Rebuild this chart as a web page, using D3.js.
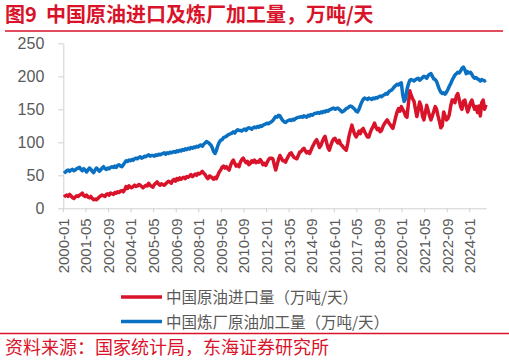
<!DOCTYPE html>
<html>
<head>
<meta charset="utf-8">
<script src="https://cdn.jsdelivr.net/npm/d3@7"></script>
<style>
  body { margin: 0; background: #fff; }
  svg { display: block; }
</style>
</head>
<body>
<div id="chart"></div>
<script>
// monthly, 2000-01 .. 2024-12
var startYear = 2000, endYear = 2024;

var tickLabels = ["2000-01", "2001-05", "2002-09", "2004-01", "2005-05", "2006-09", "2008-01",
  "2009-05", "2010-09", "2012-01", "2013-05", "2014-09", "2016-01", "2017-05", "2018-09",
  "2020-01", "2021-05", "2022-09", "2024-01"];

var yTicks = [0, 50, 100, 150, 200, 250];

var seriesNames = ["中国原油进口量（万吨/天）", "中国炼厂原油加工量（万吨/天）"];

// 中国原油进口量, 万吨/天
var importVals = [
  17, 19, 20, 18, 21, 19, 16, 15, 17, 19, 18, 20,
  21, 23, 19, 18, 20, 17, 16, 18, 15, 13, 14, 13,
  15, 17, 19, 20, 19, 18, 21, 22, 20, 23, 22, 21,
  24, 23, 25, 24, 26, 27, 25, 28, 33, 30, 34, 32,
  31, 33, 35, 33, 34, 36, 35, 33, 31, 33, 35, 34,
  38, 35, 33, 32, 36, 38, 40, 37, 35, 37, 36, 35,
  37, 39, 41, 40, 38, 42, 44, 41, 45, 43, 46, 44,
  46, 47, 45, 48, 47, 49, 51, 48, 50, 52, 50, 53,
  52, 54, 56, 53, 51, 47, 45, 49, 48, 46, 44, 47,
  45, 50, 55, 58, 62, 64, 61, 63, 60, 58, 65, 70,
  73, 68, 64, 66, 63, 70, 74, 76, 72, 69, 71, 66,
  68, 72, 70, 73, 69, 71, 70, 74, 71, 66, 68, 65,
  70, 74, 76, 76, 75, 66, 58, 66, 74, 80, 76, 72,
  72, 70, 75, 79, 83, 84, 80, 77, 76, 75, 80, 85,
  86, 89, 91, 87, 84, 86, 83, 88, 93, 97, 101, 104,
  99, 92, 95, 101, 106, 109, 100, 92, 88, 95, 101, 105,
  106, 102, 99, 103, 97, 95, 92, 90, 88, 98, 110, 118,
  126, 118, 112, 108, 112, 117, 113, 119, 121, 116, 112, 108,
  108, 115, 120, 124, 129, 123, 119, 121, 116, 118, 124, 128,
  131, 134, 130, 127, 124, 121, 129, 138, 146, 151, 147, 154,
  150, 146, 140, 138, 158, 178, 171, 166, 162, 150, 139, 150,
  161, 155, 140, 134, 145, 156, 148, 140, 134, 140, 147, 154,
  150, 140, 132, 122, 125, 146, 140, 134, 136, 142, 155, 164,
  164, 160, 170, 174, 165, 154, 150, 162, 164, 155, 146, 152,
  160, 164, 156, 150, 154, 145, 155, 140, 160, 164, 150, 157
];

// 中国炼厂原油加工量, 万吨/天
var refineVals = [
  53, 55, 57, 58, 56, 58, 59, 57, 58, 60, 61, 62,
  59, 57, 60, 58, 55, 58, 61, 59, 56, 54, 58, 61,
  59, 56, 58, 61, 63, 60, 59, 61, 60, 62, 63, 62,
  64, 62, 65, 66, 64, 63, 66, 69, 72, 71, 73, 72,
  74, 73, 75, 76, 75, 77, 78, 76, 77, 79, 78, 80,
  81, 79, 80, 80, 79, 81, 80, 82, 81, 82, 83, 84,
  82, 84, 83, 85, 84, 85, 86, 85, 87, 86, 88, 87,
  89, 88, 90, 89, 91, 90, 92, 91, 93, 92, 94, 93,
  95, 96, 94, 97, 99, 101, 100, 98, 96, 92, 86, 83,
  88, 95, 100, 103, 104, 107, 108, 109, 111, 112, 113, 114,
  116, 114, 117, 119, 118, 118, 117, 119, 120, 118, 121, 122,
  121, 120, 122, 123, 122, 124, 123, 125, 124, 126, 127, 128,
  129, 128, 130, 131, 133, 136, 139, 138, 141, 140, 136, 133,
  131, 130, 132, 133, 134, 133, 135, 134, 136, 137, 138, 138,
  139, 138, 140, 139, 138, 141, 140, 142, 141, 143, 144, 144,
  145, 144, 146, 145, 147, 146, 148, 147, 149, 150, 151, 152,
  150, 151, 152, 150, 148, 146, 147, 149, 151, 152, 154, 155,
  154, 152, 150, 147, 146, 150, 156, 161, 165, 167, 166, 165,
  167, 166, 165, 167, 166, 168, 167, 169, 170, 169, 171, 172,
  174, 173, 176, 178, 179, 181, 184, 186, 188, 187, 189, 190,
  172, 162, 166, 180, 188, 194, 195, 194, 193, 195, 196, 197,
  194, 196, 198, 200, 199, 197, 201, 203, 204, 200, 196, 195,
  192, 186, 180, 176, 174, 175, 173, 176, 180, 185, 189, 194,
  198, 202, 204, 206, 205, 208, 212, 214, 210, 204, 207, 205,
  206, 203, 199, 197, 198, 196, 195, 193, 195, 194, 193, 194
];

var months = [];
for (var yr = startYear; yr <= endYear; yr++) {
  for (var m = 1; m <= 12; m++) months.push(yr + "-" + (m < 10 ? "0" + m : m));
}

var RED = "#d9132a", BLUE = "#0a70c2", GREY = "#595959", AXIS = "#d0d0d0";
var W = 509, H = 363;

var svg = d3.select("#chart").append("svg").attr("width", W).attr("height", H);

// title + rule
svg.append("text")
  .attr("x", 5).attr("y", 22)
  .attr("fill", RED)
  .attr("style", "font-family: 'Noto Sans CJK SC'; font-weight: bold; font-size: 20px;")
  .attr("xml:space", "preserve")
  .text("图9  中国原油进口及炼厂加工量，万吨/天");
svg.append("line").attr("x1", 5).attr("x2", 503).attr("y1", 31).attr("y2", 31)
  .attr("stroke", RED).attr("stroke-width", 1.5);

var x = d3.scaleBand().domain(months).range([63.3, 486.7]).padding(0);
var y = d3.scaleLinear().domain([0, 250]).range([208.3, 43.3]);

// y axis
var gy = svg.append("g")
  .attr("transform", "translate(63.3,0)")
  .call(d3.axisLeft(y).tickValues(yTicks).tickSize(5).tickPadding(14).tickSizeOuter(0));
gy.select(".domain").attr("stroke", AXIS);
gy.selectAll(".tick line").attr("stroke", AXIS);
gy.selectAll(".tick text")
  .attr("fill", GREY)
  .attr("style", "font-family: 'Liberation Sans', Arial; font-size: 16px;");

// x axis (ticks on month boundaries)
var gx = svg.append("g")
  .attr("transform", "translate(" + (-x.bandwidth() / 2) + "," + y(0) + ")")
  .call(d3.axisBottom(x).tickValues(tickLabels).tickSize(4).tickSizeOuter(0));
gx.select(".domain").attr("stroke", AXIS).attr("d", "M" + (63.3 + x.bandwidth() / 2) + ",0.5H" + (486.7 + x.bandwidth() / 2));
gx.selectAll(".tick line").attr("stroke", AXIS);
gx.selectAll(".tick text")
  .attr("fill", GREY)
  .attr("style", "font-family: 'Liberation Sans', Arial; font-size: 15px;")
  .attr("transform", "rotate(-90)")
  .attr("text-anchor", "end")
  .attr("x", -10).attr("y", 0).attr("dy", "0.36em");

// lines
var line = d3.line()
  .x(function(d, i) { return x(months[i]) + x.bandwidth() / 2; })
  .y(function(d) { return y(d); });

svg.append("path").datum(importVals)
  .attr("d", line).attr("fill", "none")
  .attr("stroke", RED).attr("stroke-width", 3.5).attr("stroke-linejoin", "round");
svg.append("path").datum(refineVals)
  .attr("d", line).attr("fill", "none")
  .attr("stroke", BLUE).attr("stroke-width", 3.5).attr("stroke-linejoin", "round");

// legend
var legend = svg.append("g").selectAll("g")
  .data(seriesNames)
  .enter().append("g")
    .attr("transform", function(d, i) { return "translate(121," + (297 + i * 24.5) + ")"; });
legend.append("line")
  .attr("x1", 0).attr("x2", 41)
  .attr("stroke", function(d, i) { return i === 0 ? RED : BLUE; })
  .attr("stroke-width", 3.5);
legend.append("text")
  .attr("x", 45).attr("y", 6)
  .attr("fill", GREY)
  .attr("style", "font-family: 'Noto Sans CJK SC'; font-size: 15.5px;")
  .text(function(d) { return d; });

// source
svg.append("line").attr("x1", 0).attr("x2", 509).attr("y1", 333.5).attr("y2", 333.5)
  .attr("stroke", RED).attr("stroke-width", 1.5);
svg.append("text")
  .attr("x", 5).attr("y", 354)
  .attr("fill", RED)
  .attr("style", "font-family: 'Noto Sans CJK SC'; font-size: 18px;")
  .text("资料来源：国家统计局，东海证券研究所");
</script>
</body>
</html>
